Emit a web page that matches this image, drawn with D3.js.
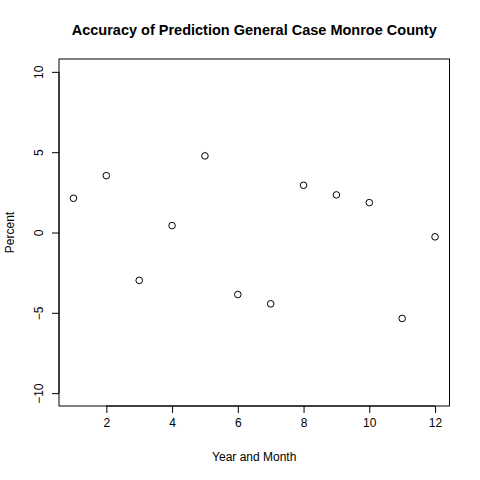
<!DOCTYPE html>
<html><head><meta charset="utf-8">
<script src="https://cdn.jsdelivr.net/npm/d3@7"></script>
<style>body{margin:0;background:#fff}svg{display:block}text{font-family:"Liberation Sans",Arial,sans-serif}</style>
</head><body>
<script>
const months = [1,2,3,4,5,6,7,8,9,10,11,12];
const percent = [2.13,3.54,-2.98,0.43,4.77,-3.86,-4.44,2.94,2.34,1.86,-5.35,-0.27];
const xTicks = [2,4,6,8,10,12];
const yTicks = [-10,-5,0,5,10];
const title = "Accuracy of Prediction General Case Monroe County";
const xLabel = "Year and Month";
const yLabel = "Percent";

const W=480,H=480;
const L=59,R=449.5,T=59,B=406;
const svg=d3.select("body").append("svg").attr("width",W).attr("height",H);
const x=d3.scaleLinear().domain([1-0.44,12+0.44]).range([L,R]);
const y=d3.scaleLinear().domain([-10.8,10.8]).range([B,T]);

svg.append("rect").attr("x",L).attr("y",T).attr("width",R-L).attr("height",B-T)
  .attr("fill","none").attr("stroke","#000").attr("stroke-width",1);

const xa=svg.append("g").attr("transform",`translate(0,${B})`)
  .call(d3.axisBottom(x).tickValues(xTicks).tickSize(7).tickPadding(5).tickFormat(d3.format("d")));
xa.select(".domain").attr("d",`M${x(2)},0H${x(12)}`);
xa.selectAll("text").attr("font-size",12).attr("fill","#000").attr("font-family","Liberation Sans, Arial, sans-serif");

const ya=svg.append("g").attr("transform",`translate(${L},0)`)
  .call(d3.axisLeft(y).tickValues(yTicks).tickSize(7).tickFormat(d3.format("d")));
ya.select(".domain").attr("d",`M0,${y(-10)}V${y(10)}`);
ya.selectAll(".tick text").attr("font-size",12).attr("fill","#000")
  .attr("font-family","Liberation Sans, Arial, sans-serif")
  .attr("x",null).attr("dy",null).attr("text-anchor","middle")
  .attr("transform","translate(-16,0) rotate(-90)");

svg.append("g").selectAll("circle").data(months).join("circle")
  .attr("cx",(d)=>x(d)).attr("cy",(d,i)=>y(percent[i])).attr("r",3.3)
  .attr("fill","none").attr("stroke","#000").attr("stroke-width",1);

svg.append("text").attr("x",(L+R)/2).attr("y",35).attr("text-anchor","middle")
  .attr("font-size",14.5).attr("font-weight","bold").text(title);
svg.append("text").attr("x",(L+R)/2).attr("y",461).attr("text-anchor","middle")
  .attr("font-size",12).text(xLabel);
svg.append("text").attr("transform",`translate(14,${(T+B)/2}) rotate(-90)`).attr("text-anchor","middle")
  .attr("font-size",12).text(yLabel);
</script>
</body></html>
